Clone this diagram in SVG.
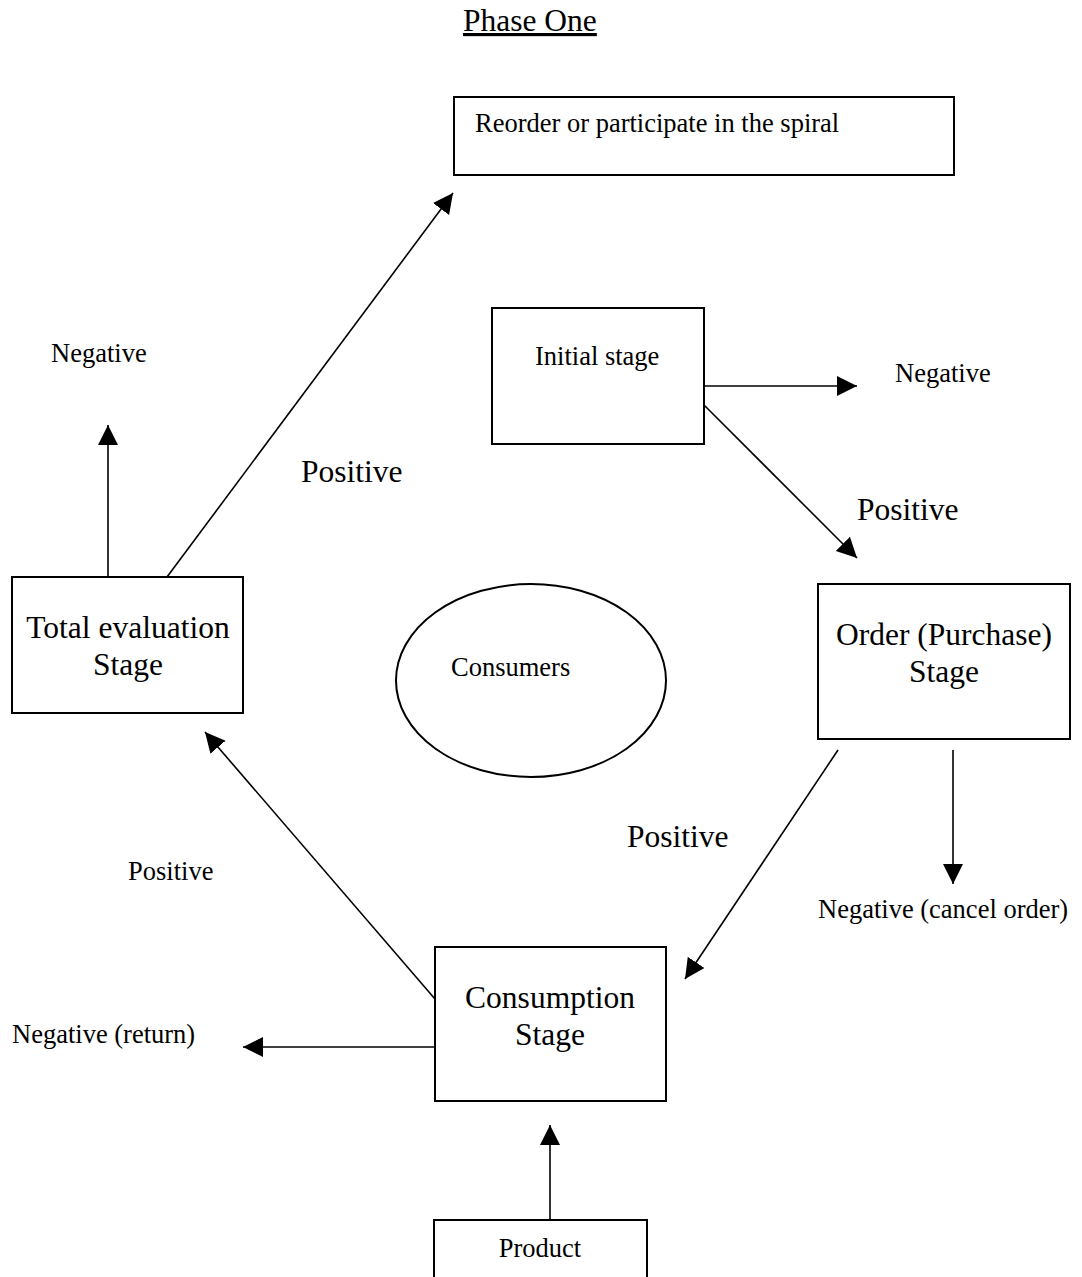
<svg xmlns="http://www.w3.org/2000/svg" width="1082" height="1277" viewBox="0 0 1082 1277">
<style>
text{font-family:"Liberation Serif","Times New Roman",serif;fill:#000}
.s{font-size:26.5px}
.b{font-size:31.5px}
.box{fill:#fff;stroke:#000;stroke-width:2}
.ln{stroke:#000;stroke-width:1.6;fill:none;marker-end:url(#ah)}
</style>
<defs>
<marker id="ah" markerUnits="userSpaceOnUse" markerWidth="21" markerHeight="21" refX="20" refY="10" orient="auto" viewBox="0 0 21 21">
<path d="M0,0 L20,10 L0,20 z" fill="#000"/>
</marker>
</defs>
<rect width="1082" height="1277" fill="#fff"/>
<text id="title" class="b" x="463" y="31" text-decoration="underline">Phase One</text>
<g id="connectors">
<line class="ln" x1="167" y1="577" x2="453" y2="193"/>
<line class="ln" x1="108" y1="577" x2="108" y2="425"/>
<line class="ln" x1="704" y1="386" x2="857" y2="386"/>
<line class="ln" x1="704" y1="405" x2="857" y2="558"/>
<line class="ln" x1="838" y1="750" x2="685" y2="979"/>
<line class="ln" x1="953" y1="750" x2="953" y2="884"/>
<line class="ln" x1="435" y1="999" x2="205" y2="732"/>
<line class="ln" x1="435" y1="1047" x2="243" y2="1047"/>
<line class="ln" x1="550" y1="1220" x2="550" y2="1125"/>
</g>
<g id="reorder">
<rect class="box" x="454" y="97" width="500" height="78"/>
<text class="s" x="475" y="132">Reorder or participate in the spiral</text>
</g>
<g id="initial">
<rect class="box" x="492" y="308" width="212" height="136"/>
<text class="s" x="535" y="365">Initial stage</text>
</g>
<g id="total">
<rect class="box" x="12" y="577" width="231" height="136"/>
<text class="b" x="128" y="638" text-anchor="middle">Total evaluation</text>
<text class="b" x="128" y="675" text-anchor="middle">Stage</text>
</g>
<g id="consumers">
<ellipse cx="531" cy="680.5" rx="135" ry="96.5" fill="#fff" stroke="#000" stroke-width="2"/>
<text class="s" x="451" y="676">Consumers</text>
</g>
<g id="order">
<rect class="box" x="818" y="584" width="252" height="155"/>
<text class="b" x="944" y="645" text-anchor="middle">Order (Purchase)</text>
<text class="b" x="944" y="682" text-anchor="middle">Stage</text>
</g>
<g id="consumption">
<rect class="box" x="435" y="947" width="231" height="154"/>
<text class="b" x="550" y="1008" text-anchor="middle">Consumption</text>
<text class="b" x="550" y="1045" text-anchor="middle">Stage</text>
</g>
<g id="product">
<rect class="box" x="434" y="1220" width="213" height="70"/>
<text class="s" x="540" y="1257" text-anchor="middle">Product</text>
</g>
<g id="labels">
<text class="s" x="51" y="362">Negative</text>
<text class="b" x="301" y="482">Positive</text>
<text class="s" x="895" y="382">Negative</text>
<text class="b" x="857" y="520">Positive</text>
<text class="b" x="627" y="847">Positive</text>
<text class="s" x="818" y="918">Negative (cancel order)</text>
<text class="s" x="128" y="880">Positive</text>
<text class="s" x="12" y="1043">Negative (return)</text>
</g>
</svg>
